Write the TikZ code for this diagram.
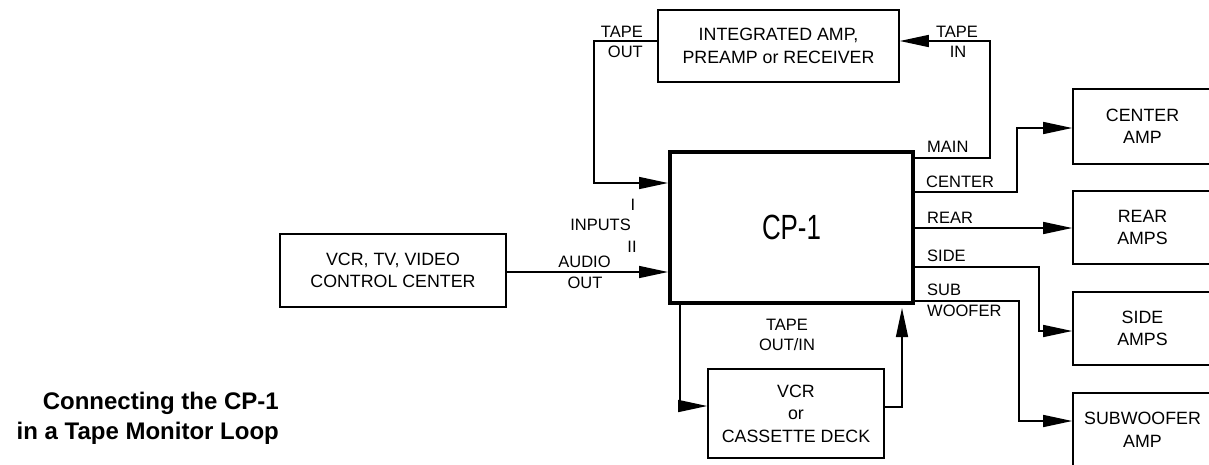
\documentclass[tikz,border=0pt]{standalone}
\usepackage{fontspec}
\setmainfont{Liberation Sans}
\usetikzlibrary{arrows.meta}
\begin{document}
\begin{tikzpicture}[x=1pt,y=-1pt,
  box/.style={draw, line width=1.6pt, inner sep=0pt, align=center,
    font=\fontsize{17.8}{22.5}\selectfont},
  lab/.style={inner sep=0pt, font=\fontsize{16.5}{20}\selectfont,
    text height=11.8pt, text depth=0pt},
  wire/.style={line width=1.5pt},
  arr/.style={wire, -{Triangle[length=29pt,width=12pt]}}]
\useasboundingbox (0,0) rectangle (1209,464);
\clip (0,0) rectangle (1209,464);

% boxes
\node[box, minimum width=241pt, minimum height=72pt] (amp) at (778.5,46)
  {INTEGRATED AMP,\\PREAMP or RECEIVER};
\node[draw, line width=4pt, inner sep=0pt, minimum width=243pt, minimum height=151pt] (cp) at (791.5,227.5)
  {\raisebox{-3pt}{\scalebox{0.74}[1]{\fontsize{35}{40}\selectfont CP-1}}};
\node[box, minimum width=226pt, minimum height=73pt] (vcrtv) at (393,270.5)
  {VCR, TV, VIDEO\\CONTROL CENTER};
\node[box, minimum width=176pt, minimum height=89pt] (deck) at (796,413.5)
  {VCR\\or\\CASSETTE DECK};
\node[box, minimum width=139pt, minimum height=75pt] (camp) at (1142.5,126.5)
  {CENTER\\AMP};
\node[box, minimum width=139pt, minimum height=73pt] (ramp) at (1142.5,227.5)
  {REAR\\AMPS};
\node[box, minimum width=139pt, minimum height=73pt] (samp) at (1142.5,328.5)
  {SIDE\\AMPS};
\node[box, minimum width=139pt, minimum height=74pt] (wamp) at (1142.5,430)
  {SUBWOOFER\\AMP};

% title
\node[align=right, anchor=east, inner sep=0pt,
  font=\bfseries\fontsize{24}{30}\selectfont] (title) at (279,418)
  {Connecting the CP-1\\in a Tape Monitor Loop};

% bend coordinates
\coordinate (to1) at (594,41);
\coordinate (to2) at (594,183);
\coordinate (ti1) at (990,158);
\coordinate (ti2) at (990,41);
\coordinate (ao) at (600,272);
\coordinate (c1) at (1017,192);
\coordinate (c2) at (1017,128);
\coordinate (r1) at (1000,228);
\coordinate (s1) at (1039,267);
\coordinate (s2) at (1039,331);
\coordinate (w1) at (1019,301);
\coordinate (w2) at (1019,421);
\coordinate (d1) at (680,406);
\coordinate (d2) at (902,407);

% connectors
\draw[arr] (amp.west |- to1) -- (to1) -- (to2) -- (cp.west |- to2);
\draw[arr] (cp.east |- ti1) -- (ti1) -- (ti2) -- (amp.east |- ti2);
\draw[arr] (vcrtv.east |- ao) -- (cp.west |- ao);
\draw[arr] (cp.east |- c1) -- (c1) -- (c2) -- (camp.west |- c2);
\draw[arr] (cp.east |- r1) -- (ramp.west |- r1);
\draw[arr] (cp.east |- s1) -- (s1) -- (s2) -- (samp.west |- s2);
\draw[arr] (cp.east |- w1) -- (w1) -- (w2) -- (wamp.west |- w2);
\draw[arr] (cp.south -| d1) -- (d1) -- (deck.west |- d1);
\draw[arr, shorten >=3pt] (deck.east |- d2) -- (d2) -- (cp.south -| d2);

% labels
\node[lab, anchor=east] (lto1) at (643,32) {TAPE};
\node[lab, anchor=east] (lto2) at (643,52) {OUT};
\node[lab] (lti1) at (957,32) {TAPE};
\node[lab] (lti2) at (958,52) {IN};
\node[lab, anchor=west] (lmain) at (927,147) {MAIN};
\node[lab, anchor=west] (lcenter) at (926,182) {CENTER};
\node[lab, anchor=west] (lrear) at (927,218) {REAR};
\node[lab, anchor=west] (lside) at (927,256) {SIDE};
\node[lab, anchor=west] (lsub) at (927,290) {SUB};
\node[lab, anchor=west] (lwoof) at (927,311) {WOOFER};
\node[lab] (lin1) at (633,205) {I};
\node[lab, anchor=east] (linp) at (631,225) {INPUTS};
\node[lab] (lin2) at (632,247) {II};
\node[lab] (lao1) at (584.5,262) {AUDIO};
\node[lab] (lao2) at (585,283) {OUT};
\node[lab] (ltoi1) at (787,325) {TAPE};
\node[lab] (ltoi2) at (787,345) {OUT/IN};
\end{tikzpicture}
\end{document}
